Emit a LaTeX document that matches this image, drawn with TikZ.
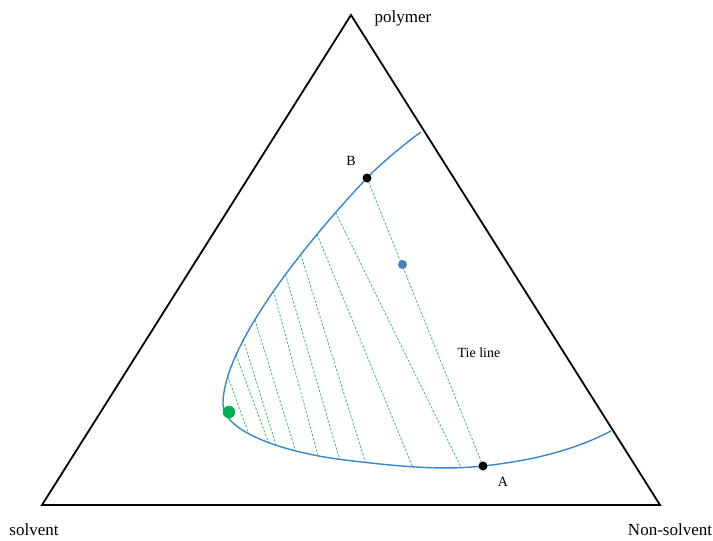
\documentclass[tikz,border=0pt]{standalone}
\usepackage{fontspec}
\setmainfont{Liberation Serif}
\begin{document}
\begin{tikzpicture}[x=1pt,y=-1pt,
  edge/.style={line width=1.8pt, line join=miter, black},
  binodal/.style={line width=1.4pt, color=curveblue},
  tieline/.style={line width=0.8pt, color=tiegreen, dash pattern=on 2.5pt off 1.5pt},
  bigl/.style={font=\fontsize{17}{20}\selectfont, anchor=base, inner sep=0pt},
  smalll/.style={font=\fontsize{14}{16}\selectfont, anchor=base, inner sep=0pt},
  blackdot/.style={circle, fill=black, inner sep=0pt, minimum size=9pt},
]
\definecolor{curveblue}{RGB}{52,136,206}
\definecolor{tiegreen}{RGB}{70,190,100}
\definecolor{dotblue}{RGB}{79,129,189}
\definecolor{dotgreen}{RGB}{0,176,80}
\useasboundingbox (0,0) rectangle (713,541);

% triangle
\coordinate (P) at (351,15);
\coordinate (S) at (42,505);
\coordinate (N) at (660,505);
\draw[edge] (S) -- (P) -- (N) -- cycle;

% labels
\node[bigl] (lp) at (403,22) {polymer};
\node[bigl] (ls) at (34,535) {solvent};
\node[bigl] (ln) at (670,535) {Non-solvent};
\node[smalll] (tl) at (479,357.5) {Tie line};

\coordinate (E1) at (421,132);
\coordinate (Bp) at (367,178);
\coordinate (L) at (223,404);
\coordinate (Q) at (345,460);
\coordinate (Ap) at (483,466);
\coordinate (E2) at (611,431);

% tie line end points, taken on the binodal curve
\path (E1) .. controls (407,142) and (381.25,163) .. (Bp)
  .. controls (324.25,223) and (223,339) .. (L)
     coordinate[pos=0.2] (t1) coordinate[pos=0.3] (t2)
     coordinate[pos=0.385] (t3) coordinate[pos=0.465] (t4)
     coordinate[pos=0.53] (t5) coordinate[pos=0.64] (t6)
     coordinate[pos=0.72] (t7) coordinate[pos=0.78] (t8)
     coordinate[pos=0.87] (t9)
  .. controls (223,432) and (285,452.8) .. (Q)
     coordinate[pos=0.4] (b9) coordinate[pos=0.55] (b8)
     coordinate[pos=0.6] (b7) coordinate[pos=0.72] (b6)
     coordinate[pos=0.85] (b5) coordinate[pos=0.97] (b4)
  .. controls (390,465.4) and (438,471) .. (Ap)
     coordinate[pos=0.15] (b3) coordinate[pos=0.49] (b2)
     coordinate[pos=0.84] (b1);

\draw[tieline] (Bp) -- (Ap);
\foreach \i in {1,...,9} \draw[tieline] (t\i) -- (b\i);

% binodal curve
\draw[binodal] (E1) .. controls (407,142) and (381.25,163) .. (Bp)
  .. controls (324.25,223) and (223,339) .. (L)
  .. controls (223,432) and (285,452.8) .. (Q)
  .. controls (390,465.4) and (438,471) .. (Ap)
  .. controls (528,461) and (571,451.8) .. (E2);

% points
\node[blackdot] (B) at (Bp) {};
\node[blackdot] (A) at (Ap) {};
\node[circle, fill=dotblue, inner sep=0pt, minimum size=9pt] (M) at (402.5,264.5) {};
\node[circle, fill=dotgreen, inner sep=0pt, minimum size=12.5pt] (G) at (229,412) {};

\node[smalll] (lB) at (351,165.5) {B};
\node[smalll] (lA) at (503,486.5) {A};
\end{tikzpicture}
\end{document}
